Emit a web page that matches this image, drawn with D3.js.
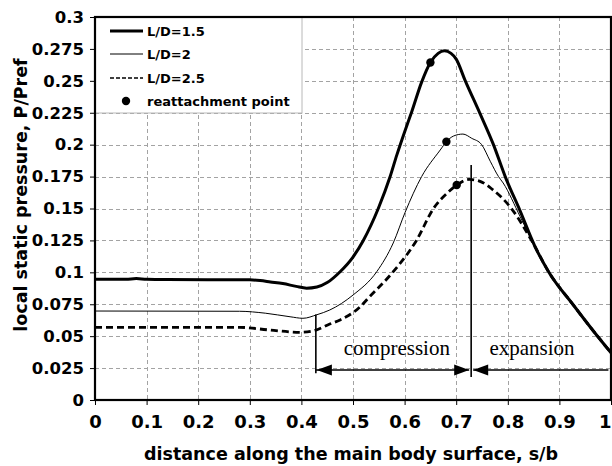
<!DOCTYPE html>
<html>
<head>
<meta charset="utf-8">
<script src="https://cdn.jsdelivr.net/npm/d3@7"></script>
<style>
  html, body { margin: 0; padding: 0; background: #fff; }
  svg { display: block; }
</style>
</head>
<body>
<svg id="chart" width="612" height="466"></svg>
<script>
// Surface pressure distribution along the main body, three L/D ratios
const sLD15 = [0, 0.06, 0.08, 0.10, 0.14, 0.30, 0.32, 0.34, 0.364, 0.39, 0.41, 0.43, 0.45, 0.475, 0.50, 0.52, 0.549, 0.572, 0.585, 0.60, 0.614, 0.633, 0.650, 0.665, 0.677, 0.69, 0.70, 0.717, 0.746, 0.772, 0.795, 0.824, 0.853, 0.879, 0.927, 0.972, 1.0];
const pLD15 = [0.0945, 0.0945, 0.0951, 0.0945, 0.0943, 0.0941, 0.0936, 0.0925, 0.0912, 0.0890, 0.0876, 0.0885, 0.0920, 0.1005, 0.112, 0.125, 0.150, 0.175, 0.192, 0.210, 0.226, 0.249, 0.2644, 0.2715, 0.2735, 0.2715, 0.267, 0.2506, 0.2245, 0.2002, 0.175, 0.148, 0.120, 0.1005, 0.0744, 0.0509, 0.037];

const sLD2 = [0, 0.28, 0.33, 0.378, 0.403, 0.43, 0.455, 0.50, 0.546, 0.578, 0.601, 0.633, 0.669, 0.681, 0.695, 0.713, 0.73, 0.749, 0.766, 0.782, 0.791, 0.824, 0.853, 0.879, 0.927, 0.972, 1.0];
const pLD2 = [0.0697, 0.0695, 0.068, 0.0652, 0.064, 0.0668, 0.0705, 0.0822, 0.1005, 0.123, 0.147, 0.175, 0.1958, 0.2023, 0.2068, 0.2083, 0.205, 0.2002, 0.187, 0.175, 0.170, 0.1436, 0.120, 0.1005, 0.0744, 0.0509, 0.037];

const sLD25 = [0, 0.28, 0.339, 0.397, 0.428, 0.455, 0.475, 0.514, 0.53, 0.578, 0.623, 0.656, 0.685, 0.701, 0.725, 0.745, 0.77, 0.807, 0.846, 0.879, 0.927, 0.972, 1.0];
const pLD25 = [0.0569, 0.0569, 0.0548, 0.053, 0.0548, 0.0595, 0.0627, 0.0731, 0.080, 0.1005, 0.125, 0.150, 0.163, 0.1684, 0.1728, 0.1715, 0.165, 0.150, 0.125, 0.1005, 0.0744, 0.0509, 0.037];

// Reattachment points (one per L/D)
const reattachS = [0.650, 0.681, 0.701];
const reattachP = [0.2644, 0.2023, 0.1684];

const seriesNames = ["L/D=1.5", "L/D=2", "L/D=2.5", "reattachment point"];
const xTicks = [0, 0.1, 0.2, 0.3, 0.4, 0.5, 0.6, 0.7, 0.8, 0.9, 1];
const yTicks = [0, 0.025, 0.05, 0.075, 0.1, 0.125, 0.15, 0.175, 0.2, 0.225, 0.25, 0.275, 0.3];
const yTickLabels = ["0", "0.025", "0.05", "0.075", "0.1", "0.125", "0.15", "0.175", "0.2", "0.225", "0.25", "0.275", "0.3"];

// Compression / expansion zone markers
const zoneStart = 0.428, zoneSplit = 0.729, zoneEnd = 0.995;

const W = 612, H = 466;
const m = { left: 95, top: 17, right: 1, bottom: 66 };
const svg = d3.select("#chart");
const x = d3.scaleLinear().domain([0, 1]).range([m.left, W - m.right]);
const y = d3.scaleLinear().domain([0, 0.3]).range([H - m.bottom, m.top]);
const FONT = "'DejaVu Sans', sans-serif";

// grid
const grid = svg.append("g").attr("stroke", "#a3a3a3").attr("stroke-width", 1).attr("stroke-dasharray", "4,3");
grid.selectAll("line.gx").data(xTicks.slice(1, -1)).join("line")
  .attr("x1", d => Math.round(x(d)) + 0.5).attr("x2", d => Math.round(x(d)) + 0.5)
  .attr("y1", y(0.3)).attr("y2", y(0));
grid.selectAll("line.gy").data(yTicks.slice(1, -1)).join("line")
  .attr("x1", x(0)).attr("x2", x(1))
  .attr("y1", d => Math.round(y(d)) + 0.5).attr("y2", d => Math.round(y(d)) + 0.5);

// legend box (covers grid)
const lg = svg.append("g");
lg.append("rect").attr("x", x(0)).attr("y", y(0.3)).attr("width", 207).attr("height", 96)
  .attr("fill", "#fff").attr("stroke", "#b8b8b8").attr("stroke-width", 1);

// axes
const xAxis = d3.axisBottom(x).tickValues(xTicks).tickFormat(d3.format("")).tickSize(5).tickPadding(10);
const yAxis = d3.axisLeft(y).tickValues(yTicks).tickFormat((d, i) => yTickLabels[i]).tickSize(5).tickPadding(6);
const gx = svg.append("g").attr("transform", `translate(0,${y(0)})`).call(xAxis);
const gy = svg.append("g").attr("transform", `translate(${x(0)},0)`).call(yAxis);
[gx, gy].forEach(g => {
  g.select(".domain").remove();
  g.selectAll("text").attr("font-family", FONT).attr("font-weight", "bold").attr("fill", "#000");
  g.selectAll("line").attr("stroke", "#000");
});
gx.selectAll("text").attr("font-size", 18);
// last label sits at the window edge; keep it inside
gx.selectAll("text").filter(d => d === 1).attr("text-anchor", "end").attr("dx", 0);
gy.selectAll("text").attr("font-size", 16.5);

// curves
const line = d3.line().x(d => x(d[0])).y(d => y(d[1])).curve(d3.curveMonotoneX);
const zip = (a, b) => a.map((v, i) => [v, b[i]]);
const plot = svg.append("g").attr("fill", "none").attr("stroke", "#000");
plot.append("path").attr("d", line(zip(sLD15, pLD15))).attr("stroke-width", 3);
plot.append("path").attr("d", line(zip(sLD2, pLD2))).attr("stroke-width", 1);
plot.append("path").attr("d", line(zip(sLD25, pLD25))).attr("stroke-width", 2.8).attr("stroke-dasharray", "7,4");

svg.append("g").selectAll("circle").data(reattachS).join("circle")
  .attr("cx", d => x(d)).attr("cy", (d, i) => y(reattachP[i])).attr("r", 4.2).attr("fill", "#000");

// frame
svg.append("rect").attr("x", x(0)).attr("y", y(0.3)).attr("width", x(1) - x(0)).attr("height", y(0) - y(0.3))
  .attr("fill", "none").attr("stroke", "#000").attr("stroke-width", 2.2);

// zone annotation
const ann = svg.append("g").attr("stroke", "#000").attr("stroke-width", 1.6);
ann.append("line").attr("x1", x(zoneStart)).attr("x2", x(zoneStart)).attr("y1", y(0.067)).attr("y2", y(0.021));
ann.append("line").attr("x1", x(zoneSplit)).attr("x2", x(zoneSplit)).attr("y1", y(0.184)).attr("y2", y(0.018));
const ay = y(0.0235);
ann.append("line").attr("x1", x(zoneStart)).attr("x2", x(zoneSplit) - 2).attr("y1", ay).attr("y2", ay);
ann.append("line").attr("x1", x(zoneSplit) + 2).attr("x2", x(zoneEnd)).attr("y1", ay).attr("y2", ay);
const head = (tipX, dir) => `M${tipX},${ay} L${tipX + dir * 15},${ay - 5.5} L${tipX + dir * 15},${ay + 5.5} Z`;
const heads = svg.append("g").attr("fill", "#000");
heads.append("path").attr("d", head(x(zoneStart) + 1, 1));
heads.append("path").attr("d", head(x(zoneSplit) - 2, -1));
heads.append("path").attr("d", head(x(zoneSplit) + 2, 1));

svg.append("text").attr("x", x(0.585)).attr("y", y(0.0353)).attr("text-anchor", "middle")
  .attr("font-family", "'Liberation Serif', 'Times New Roman', serif").attr("font-size", 21).text("compression");
svg.append("text").attr("x", x(0.847)).attr("y", y(0.0353)).attr("text-anchor", "middle")
  .attr("font-family", "'Liberation Serif', 'Times New Roman', serif").attr("font-size", 21).text("expansion");

// legend entries
const rows = [31, 54, 78, 101];
const lx1 = 110, lx2 = 143;
lg.append("line").attr("x1", lx1).attr("x2", lx2).attr("y1", rows[0]).attr("y2", rows[0]).attr("stroke", "#000").attr("stroke-width", 3);
lg.append("line").attr("x1", lx1).attr("x2", lx2).attr("y1", rows[1]).attr("y2", rows[1]).attr("stroke", "#000").attr("stroke-width", 1);
lg.append("line").attr("x1", lx1).attr("x2", lx2).attr("y1", rows[2]).attr("y2", rows[2]).attr("stroke", "#000").attr("stroke-width", 1.4).attr("stroke-dasharray", "4,2");
lg.append("circle").attr("cx", 126).attr("cy", rows[3]).attr("r", 4.2).attr("fill", "#000");
lg.selectAll("text").data(seriesNames).join("text")
  .attr("x", 147).attr("y", (d, i) => rows[i]).attr("dy", "0.36em")
  .attr("font-family", FONT).attr("font-weight", "bold").attr("font-size", 13).text(d => d);

// axis titles
svg.append("text").attr("x", (x(0) + x(1)) / 2 - 2).attr("y", 460).attr("text-anchor", "middle")
  .attr("font-family", FONT).attr("font-weight", "bold").attr("font-size", 17.5)
  .text("distance along the main body surface, s/b");
svg.append("text").attr("transform", "translate(27,195) rotate(-90)").attr("text-anchor", "middle")
  .attr("font-family", FONT).attr("font-weight", "bold").attr("font-size", 17.5)
  .text("local static pressure, P/Pref");
</script>
</body>
</html>
